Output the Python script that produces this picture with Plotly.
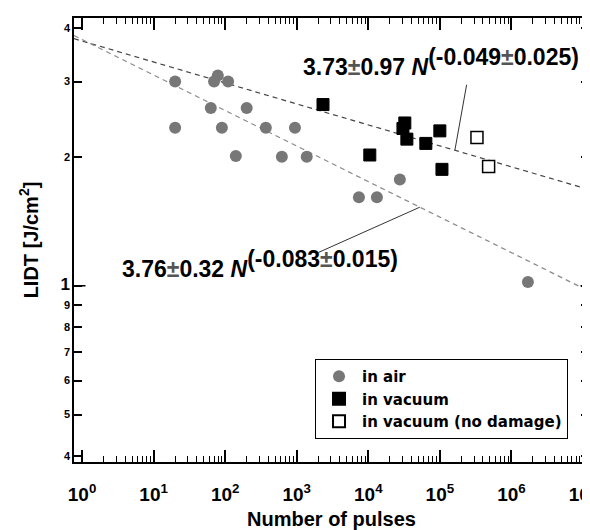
import math
import plotly.graph_objects as go

# ---- data ----
air_n = [20, 20, 63, 70, 79, 90, 110, 141, 200, 370, 620, 945, 1380, 7400, 13200, 27600, 1.7e6]
air_lidt = [3.0, 2.34, 2.6, 3.0, 3.1, 2.34, 3.0, 2.01, 2.6, 2.34, 2.0, 2.34, 2.0, 1.61, 1.61, 1.77, 1.02]

vac_n = [2330, 10500, 32400, 30500, 34600, 63700, 1.0e5, 1.07e5]
vac_lidt = [2.65, 2.02, 2.40, 2.33, 2.20, 2.15, 2.30, 1.87]

nodmg_n = [3.3e5, 4.8e5]
nodmg_lidt = [2.22, 1.90]

# power-law fits  LIDT = a * N^b
fit_air = (3.76, -0.083)
fit_vac = (3.73, -0.049)

x_tickvals = [1, 10, 100, 1e3, 1e4, 1e5, 1e6, 1e7]
x_ticktext = ["10<sup>0</sup>", "10<sup>1</sup>", "10<sup>2</sup>", "10<sup>3</sup>",
              "10<sup>4</sup>", "10<sup>5</sup>", "10<sup>6</sup>", "10<sup>7</sup>"]
y_tickvals = [0.4, 0.5, 0.6, 0.7, 0.8, 0.9, 1, 2, 3, 4]
y_ticktext = ["4", "5", "6", "7", "8", "9", "<span style='font-size:17px'>1</span>", "2", "3", "4"]

FONT = "Liberation Sans, Arial, sans-serif"

x_range = [-0.112, 7.084]
y_range = [-0.412, 0.6255]

minor_x = [d * 10 ** k for k in range(0, 7) for d in range(2, 10)]

fig = go.Figure()

# fit lines across the full axis range
n_ends = [10 ** x_range[0], 10 ** x_range[1]]
fig.add_trace(go.Scatter(x=n_ends, y=[fit_vac[0] * n ** fit_vac[1] for n in n_ends],
                         mode="lines", line=dict(color="#444444", width=1.2, dash="5px,4px"),
                         showlegend=False, hoverinfo="skip"))
fig.add_trace(go.Scatter(x=n_ends, y=[fit_air[0] * n ** fit_air[1] for n in n_ends],
                         mode="lines", line=dict(color="#8a8a8a", width=1.2, dash="5px,4px"),
                         showlegend=False, hoverinfo="skip"))

fig.add_trace(go.Scatter(x=air_n, y=air_lidt, mode="markers", name="in air",
                         marker=dict(symbol="circle", size=12, color="#777777")))
fig.add_trace(go.Scatter(x=vac_n, y=vac_lidt, mode="markers", name="in vacuum",
                         marker=dict(symbol="square", size=12, color="black",
                                     line=dict(color="black", width=1))))
fig.add_trace(go.Scatter(x=nodmg_n, y=nodmg_lidt, mode="markers", name="in vacuum (no damage)",
                         marker=dict(symbol="square", size=12, color="white",
                                     line=dict(color="black", width=1.5))))

pm = "<span style='color:#555555'>±</span>"
ann_vac = ("3.73" + pm + "0.97 <i>N</i><sup><span style='font-size:23px'>(-0.049"
           + pm + "0.025)</span></sup>")
ann_air = ("3.76" + pm + "0.32 <i>N</i><sup><span style='font-size:23px'>(-0.083"
           + pm + "0.015)</span></sup>")

annotations = [
    dict(xref="paper", yref="paper", x=0.441, y=0.90, xanchor="left", yanchor="middle",
         text=ann_vac, showarrow=False, font=dict(family=FONT, size=23, color="black", weight="bold")),
    dict(xref="paper", yref="paper", x=0.0886, y=0.446, xanchor="left", yanchor="middle",
         text=ann_air, showarrow=False, font=dict(family=FONT, size=23, color="black", weight="bold")),
]

# leader lines pointing at the fit lines
tip_vac = 10 ** 5.21
tip_air = 10 ** 4.72
annotations.append(dict(xref="x", yref="y", x=math.log10(tip_vac),
                        y=math.log10(fit_vac[0] * tip_vac ** fit_vac[1]),
                        text="", showarrow=True, arrowhead=0, arrowwidth=1, arrowcolor="#333333",
                        standoff=0, startstandoff=0, ax=12, ay=-67))
annotations.append(dict(xref="x", yref="y", x=math.log10(tip_air),
                        y=math.log10(fit_air[0] * tip_air ** fit_air[1]),
                        text="", showarrow=True, arrowhead=0, arrowwidth=1, arrowcolor="#333333",
                        standoff=0, startstandoff=0, ax=-103, ay=46))
# longer tick at y = 1 (both sides)
annotations.append(dict(xref="paper", yref="y", x=0, y=0, text="", showarrow=True, arrowhead=0,
                        arrowwidth=1.5, arrowcolor="black", standoff=0, ax=13, ay=0))
annotations.append(dict(xref="paper", yref="y", x=1, y=0, text="", showarrow=True, arrowhead=0,
                        arrowwidth=1.5, arrowcolor="black", standoff=0, ax=-10, ay=0))

# the page body adds an 8 px offset, so the figure is 8 px smaller and margins compensate
fig.update_layout(
    width=582, height=522,
    margin=dict(l=66, r=1, t=10, b=68),
    paper_bgcolor="white", plot_bgcolor="white",
    font=dict(family=FONT, color="black"),
    showlegend=True,
    legend=dict(x=0.468, y=0.052, xanchor="left", yanchor="bottom",
                bgcolor="white", bordercolor="black", borderwidth=1,
                font=dict(family="DejaVu Sans, sans-serif", size=15, color="black", weight="bold"),
                tracegroupgap=0, itemsizing="constant", itemwidth=36),
    annotations=annotations,
)

fig.update_xaxes(
    type="log", range=x_range, automargin=False,
    tickmode="array", tickvals=x_tickvals, ticktext=x_ticktext,
    ticks="inside", ticklen=12, tickwidth=1.5, tickcolor="black",
    showline=True, linecolor="black", linewidth=1.5, mirror="ticks",
    showgrid=False, zeroline=False, ticklabelstandoff=14, ticklabeloverflow="allow",
    tickfont=dict(family=FONT, size=19, color="black", weight="bold"),
    minor=dict(tickmode="array", tickvals=minor_x, ticks="inside", ticklen=6,
               tickwidth=1.2, tickcolor="black", showgrid=False),
    title=dict(text="Number of pulses", standoff=8,
               font=dict(family=FONT, size=20, color="black", weight="bold")),
)
fig.update_yaxes(
    type="log", range=y_range, automargin=False,
    tickmode="array", tickvals=y_tickvals, ticktext=y_ticktext,
    ticks="inside", ticklen=8, tickwidth=1.5, tickcolor="black",
    showline=True, linecolor="black", linewidth=1.5, mirror="ticks",
    showgrid=False, zeroline=False,
    tickfont=dict(family=FONT, size=11, color="black", weight="bold"),
    title=dict(text="LIDT [J/cm<sup>2</sup>]", standoff=17,
               font=dict(family=FONT, size=20, color="black", weight="bold")),
)

fig.write_html("out.html")
